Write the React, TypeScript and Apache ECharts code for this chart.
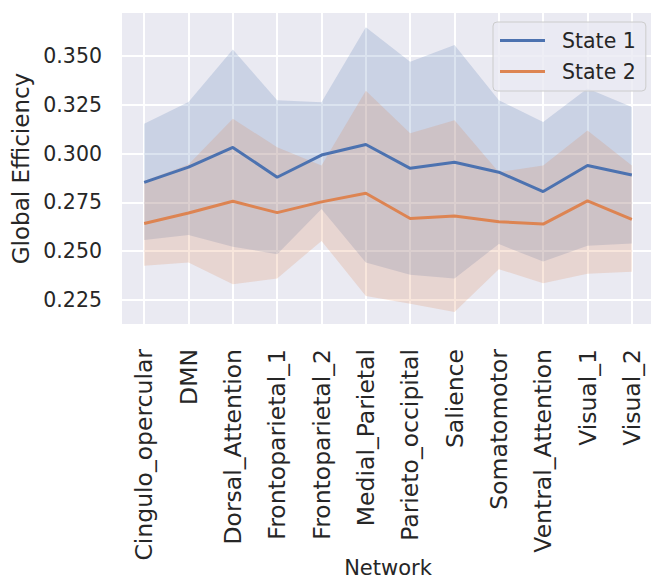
import { useEffect, useRef } from "react";
import * as echarts from "echarts";

const networks = [
  "Cingulo_opercular",
  "DMN",
  "Dorsal_Attention",
  "Frontoparietal_1",
  "Frontoparietal_2",
  "Medial_Parietal",
  "Parieto_occipital",
  "Salience",
  "Somatomotor",
  "Ventral_Attention",
  "Visual_1",
  "Visual_2",
];

const state1Mean = [0.2853, 0.2931, 0.3032, 0.2879, 0.2993, 0.3047, 0.2925, 0.2956, 0.2905, 0.2806, 0.2939, 0.2891];
const state1Upper = [0.3154, 0.3265, 0.3534, 0.3274, 0.3263, 0.3648, 0.3471, 0.3557, 0.3274, 0.3162, 0.3334, 0.3239];
const state1Lower = [0.2557, 0.2583, 0.2523, 0.2485, 0.2716, 0.2442, 0.2379, 0.236, 0.2537, 0.2447, 0.2528, 0.254];

const state2Mean = [0.2642, 0.2696, 0.2756, 0.2698, 0.2753, 0.2797, 0.2668, 0.268, 0.2651, 0.2639, 0.2758, 0.2663];
const state2Upper = [0.286, 0.2945, 0.3179, 0.3033, 0.2939, 0.3322, 0.3105, 0.3171, 0.2905, 0.2939, 0.3119, 0.2939];
const state2Lower = [0.2425, 0.2442, 0.2331, 0.236, 0.2553, 0.2271, 0.2231, 0.2189, 0.2408, 0.2336, 0.2385, 0.2395];

const yTicks = [0.225, 0.25, 0.275, 0.3, 0.325, 0.35];

const BLUE = "#4C72B0";
const ORANGE = "#DD8452";
const TEXT = "#262626";
const FONT = "DejaVu Sans";

// 置信区间：下界透明 + 上下差值堆叠填充
function bandSeries(key: string, lower: number[], upper: number[], color: string) {
  return [
    {
      name: key + "_lo",
      type: "line",
      stack: key,
      data: lower,
      symbol: "none",
      silent: true,
      lineStyle: { opacity: 0 },
      z: 1,
    },
    {
      name: key + "_band",
      type: "line",
      stack: key,
      data: upper.map((u, i) => +(u - lower[i]).toFixed(4)),
      symbol: "none",
      silent: true,
      lineStyle: { opacity: 0 },
      areaStyle: { color, opacity: 0.2 },
      z: 1,
    },
  ];
}

export default function App() {
  const chartRef = useRef<HTMLDivElement | null>(null);

  useEffect(() => {
    if (!chartRef.current) {
      return;
    }
    const chart = echarts.init(chartRef.current, undefined, { renderer: "svg" });

    chart.setOption({
      animation: false,
      backgroundColor: "#ffffff",
      textStyle: { fontFamily: FONT },
      grid: {
        left: 122,
        right: -3,
        top: 13,
        bottom: 255,
        outerBoundsMode: "none",
        containLabel: false,
        show: true,
        backgroundColor: "#EAEAF2",
        borderWidth: 0,
      },
      legend: {
        orient: "vertical",
        left: 493,
        top: 22,
        data: ["State 1", "State 2"],
        icon: "rect",
        itemWidth: 45,
        itemHeight: 3,
        itemGap: 10,
        padding: [8, 10, 9, 7],
        backgroundColor: "rgba(234,234,242,0.8)",
        borderColor: "#cccccc",
        borderWidth: 1,
        borderRadius: 4,
        textStyle: {
          fontSize: 20.5,
          color: TEXT,
          fontFamily: FONT,
          padding: [0, 0, 0, 12],
        },
      },
      xAxis: {
        type: "category",
        data: networks,
        boundaryGap: true,
        name: "Network",
        nameLocation: "middle",
        nameGap: 233,
        nameMoveOverlap: false,
        nameTextStyle: { fontSize: 21, lineHeight: 21, color: TEXT, fontFamily: FONT },
        axisLine: { show: false },
        axisTick: { show: false, alignWithLabel: true },
        axisLabel: {
          rotate: 90,
          interval: 0,
          fontSize: 23.5,
          color: TEXT,
          fontFamily: FONT,
          margin: 25,
        },
        splitLine: {
          show: true,
          alignWithLabel: true,
          lineStyle: { color: "#ffffff", width: 2 },
        },
      },
      yAxis: {
        type: "value",
        min: 0.2127,
        max: 0.3721,
        name: "Global Efficiency",
        nameLocation: "middle",
        nameGap: 88,
        nameTextStyle: { fontSize: 23, color: TEXT, fontFamily: FONT },
        axisLine: { show: false },
        axisTick: { show: false, customValues: yTicks },
        axisLabel: {
          customValues: yTicks,
          fontSize: 20.5,
          color: TEXT,
          fontFamily: FONT,
          margin: 20,
          formatter: (v: number) => v.toFixed(3),
        },
        splitLine: {
          show: true,
          lineStyle: { color: "#ffffff", width: 2 },
        },
      },
      series: [
        ...bandSeries("band1", state1Lower, state1Upper, BLUE),
        ...bandSeries("band2", state2Lower, state2Upper, ORANGE),
        {
          name: "State 1",
          type: "line",
          data: state1Mean,
          symbol: "none",
          color: BLUE,
          lineStyle: { color: BLUE, width: 3 },
          z: 3,
        },
        {
          name: "State 2",
          type: "line",
          data: state2Mean,
          symbol: "none",
          color: ORANGE,
          lineStyle: { color: ORANGE, width: 3 },
          z: 3,
        },
      ],
    });

    return () => {
      chart.dispose();
    };
  }, []);

  return (
    <div
      ref={chartRef}
      style={{ position: "fixed", left: 0, top: 0, width: 651, height: 579 }}
    />
  );
}
